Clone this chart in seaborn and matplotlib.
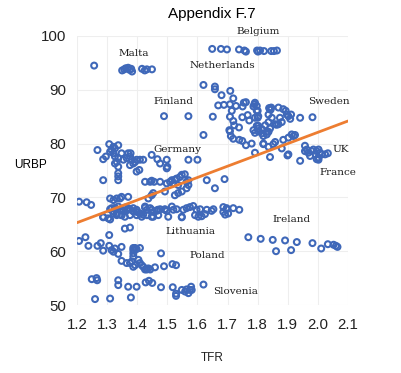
import matplotlib
matplotlib.use("Agg")
import matplotlib.pyplot as plt
import seaborn as sns
import pandas as pd

# ---- data (TFR, URBP) ----
belgium = [(1.649,97.6),(1.678,97.6),(1.698,97.5),(1.738,97.5),(1.756,97.3),(1.761,97.1),(1.798,97.3),
           (1.801,97.1),(1.808,97.3),(1.821,97.2),(1.845,97.2),(1.854,97.2),(1.864,97.3)]
malta = [(1.257,94.5),(1.35,93.6),(1.357,93.8),(1.362,94.0),(1.37,94.1),(1.375,93.7),(1.38,93.9),
         (1.383,93.4),(1.416,93.9),(1.425,93.6),(1.432,93.8),(1.449,93.8)]
netherlands = [(1.62,90.9),(1.658,90.6),(1.658,90.1),(1.68,89.0),(1.709,89.8),(1.719,88.4),(1.669,87.1),
               (1.688,87.2),(1.708,87.3),(1.728,87.0),(1.75,86.9),(1.761,87.7),(1.754,87.6),(1.714,86.1),
               (1.789,87.3),(1.786,86.9),(1.797,86.1),(1.489,85.1),(1.57,85.1),(1.651,85.0),(1.708,85.0),
               (1.719,84.2),(1.722,83.4),(1.749,84.9),(1.767,85.3),(1.772,84.3),(1.738,83.0),(1.797,83.3),
               (1.791,84.8),(1.80,84.8),(1.708,82.3),(1.711,81.4),(1.719,80.9),(1.62,81.6),(1.749,80.5),
               (1.761,79.7),(1.78,80.0),(1.706,82.5),(1.739,80.7),(1.819,80.0),(1.836,79.4),(1.786,82.5),
               (1.802,82.8),(1.814,81.9),(1.83,82.2),(1.841,82.8),(1.863,83.5)]
sweden = [(1.791,87.6),(1.797,87.0),(1.80,86.1),(1.802,85.1),(1.838,86.6),(1.841,86.4),(1.845,86.7),
          (1.843,86.3),(1.869,86.7),(1.885,86.4),(1.893,86.1),(1.897,85.4),(1.911,85.4),(1.941,84.8),
          (1.982,84.9),(1.836,85.4),(1.847,84.8),(1.836,84.0),(1.825,83.4),(1.814,82.7),(1.802,83.3),
          (1.858,83.6),(1.869,83.6),(1.88,84.0),(1.874,84.8),(1.902,85.1),(1.908,84.6),(1.83,81.7),
          (1.836,82.2),(1.819,81.4),(1.802,82.3),(1.791,82.0),(1.913,81.7),(1.919,81.4),(1.924,81.6),
          (1.902,81.1),(1.885,80.7),(1.858,80.3),(1.852,79.9),(1.819,79.9),(1.841,77.5),(1.902,78.0),
          (1.941,76.8),(1.791,78.3),(1.899,77.8),(1.88,79.1)]
uk = [(1.957,79.6),(1.963,78.9),(1.968,78.3),(1.98,78.6),(1.985,78.9),(1.996,78.6),(2.002,78.9),
      (2.007,78.3),(2.013,78.0),(2.024,78.0),(2.033,78.2),(2.002,77.4),(1.996,77.1),(1.974,77.7),
      (1.957,78.6),(2.002,77.0)]
germany = [(1.268,78.8),(1.307,79.9),(1.321,79.4),(1.337,79.7),(1.315,78.8),(1.326,79.1),(1.31,78.5),
           (1.321,78.2),(1.296,77.6),(1.287,77.1),(1.326,77.6),(1.337,77.3),(1.332,76.6),(1.326,76.3),
           (1.337,75.7),(1.37,78.2),(1.378,78.2),(1.376,77.6),(1.365,77.3),(1.382,77.0),(1.393,76.6),
           (1.398,77.0),(1.409,77.0),(1.42,77.0),(1.387,76.3),(1.376,76.0),(1.354,77.0),(1.348,78.2),
           (1.337,74.5),(1.337,73.9),(1.337,73.2),(1.287,73.2),(1.398,74.8),(1.407,75.1),(1.448,77.9),
           (1.467,77.1),(1.476,76.3),(1.498,77.0),(1.5,75.7),(1.498,75.4),(1.57,77.0),(1.60,77.0)]
middle = [(1.631,73.2),(1.69,73.4),(1.658,71.7),(1.426,72.9),(1.443,72.9),(1.448,73.1),(1.456,72.9),
          (1.476,72.9),(1.498,72.6),(1.509,72.9),(1.515,73.2),(1.531,73.5),(1.542,73.8),(1.558,74.3),
          (1.548,74.2),(1.525,73.3),(1.52,72.6),(1.536,72.3),(1.564,72.9),(1.57,73.2),(1.57,72.3),
          (1.564,71.7),(1.548,71.1),(1.536,70.8),(1.525,70.4),(1.492,71.1),(1.448,70.4),(1.453,70.8),
          (1.437,69.8),(1.232,69.1),(1.247,68.6),(1.207,69.2)]
lithuania = [(1.31,67.8),(1.321,67.4),(1.326,68.0),(1.332,67.0),(1.343,67.7),(1.348,66.7),(1.354,67.4),
             (1.365,67.7),(1.376,67.8),(1.387,67.4),(1.398,67.7),(1.409,67.0),(1.426,68.3),(1.432,67.7),
             (1.448,67.7),(1.453,66.4),(1.465,67.5),(1.476,67.8),(1.492,67.8),(1.498,67.5),(1.515,68.3),
             (1.52,67.7),(1.531,67.8),(1.548,66.3),(1.553,67.7),(1.564,68.0),(1.575,68.2),(1.586,68.4),
             (1.597,67.7),(1.609,67.8),(1.614,66.5),(1.625,66.9),(1.631,67.7),(1.647,67.5),(1.653,67.8),
             (1.686,68.2),(1.697,67.8),(1.702,67.0),(1.719,68.0),(1.739,67.7),(1.287,66.3),(1.31,65.9),
             (1.31,69.8),(1.321,69.5),(1.332,69.8),(1.343,69.8),(1.348,70.1),(1.37,70.1),
             (1.315,68.0),(1.326,68.0),(1.337,68.3),(1.348,67.7),(1.359,68.1),(1.37,68.0),(1.387,68.0),
             (1.398,67.3),(1.409,67.0),(1.42,66.8),(1.426,68.1),(1.443,68.0),(1.453,67.3),(1.468,67.7),
             (1.492,67.7),(1.321,67.0),(1.332,66.7),(1.348,66.7),(1.359,66.4),(1.376,66.7),(1.398,66.7),
             (1.415,66.4),(1.432,66.7),(1.448,66.4),(1.47,66.7),(1.287,66.4),(1.304,66.1),(1.503,66.4),
             (1.548,66.4),(1.592,66.7),(1.603,66.4),(1.686,67.3),(1.692,66.8),(1.697,68.0),
             (1.359,64.2),(1.376,64.4),(1.307,63.0)]
poland = [(1.207,61.9),(1.228,62.6),(1.238,61.0),(1.268,61.0),(1.279,61.5),(1.287,60.1),(1.307,61.0),
          (1.315,60.2),(1.321,59.9),(1.326,60.5),(1.337,59.5),(1.348,60.8),(1.348,58.2),(1.365,57.8),
          (1.376,57.8),(1.382,58.1),(1.387,57.1),(1.393,57.4),(1.387,59.0),(1.387,59.6),(1.387,60.2),
          (1.387,60.6),(1.393,60.6),(1.398,60.4),(1.409,60.6),(1.404,58.4),(1.409,57.8),(1.415,57.4),
          (1.42,57.1),(1.426,56.6),(1.432,56.6),(1.437,56.8),(1.443,56.6),(1.459,57.0),(1.479,59.6),
          (1.489,57.2),(1.517,57.6),(1.529,57.4)]
slovenia = [(1.249,54.8),(1.265,55.0),(1.267,54.6),(1.337,54.6),(1.337,53.7),(1.37,53.4),(1.398,53.4),
            (1.428,54.2),(1.439,54.5),(1.45,54.1),(1.479,53.3),(1.518,53.3),(1.529,51.7),(1.529,52.1),
            (1.548,52.8),(1.559,52.5),(1.57,52.2),(1.575,52.8),(1.579,53.4),(1.581,52.8),(1.564,52.9),
            (1.62,53.8),(1.26,51.1),(1.31,51.2),(1.379,51.4)]
ireland = [(1.769,62.6),(1.81,62.3),(1.85,62.1),(1.891,62.0),(1.93,61.7),(1.982,61.5),(2.011,60.5),
           (2.033,61.3),(2.052,61.2),(2.06,61.0),(2.065,60.8),(1.861,60.0),(1.911,60.2)]

trend_tfr = [1.2, 2.1]
trend_urbp = [65.3, 84.2]

country_names = ["Belgium", "Malta", "Netherlands", "Finland", "Sweden", "Germany", "UK",
                 "France", "Ireland", "Lithuania", "Poland", "Slovenia"]
label_tfr = [1.801, 1.389, 1.681, 1.522, 2.038, 1.533, 2.076, 2.066, 1.913, 1.578, 1.634, 1.726]
label_urbp = [100.9, 96.7, 94.5, 87.9, 87.9, 78.9, 78.9, 74.6, 65.8, 63.6, 59.2, 52.5]

x_ticks = [1.2, 1.3, 1.4, 1.5, 1.6, 1.7, 1.8, 1.9, 2.0, 2.1]
y_ticks = [50, 60, 70, 80, 90, 100]

points = (belgium + malta + netherlands + sweden + uk + germany + middle
          + lithuania + poland + slovenia + ireland)
df = pd.DataFrame(points, columns=["TFR", "URBP"])
trend = pd.DataFrame({"TFR": trend_tfr, "URBP": trend_urbp})

# ---- plot ----
sns.set_style("white")
plt.rcParams["font.family"] = ["Liberation Sans", "DejaVu Sans"]

fig = plt.figure(figsize=(4.02, 3.73), dpi=100)
ax = fig.add_axes([0.1915, 0.1823, 0.6742, 0.7212])

blue = "#3F68B9"
orange = "#ED7D31"

sns.scatterplot(data=df, x="TFR", y="URBP", ax=ax, s=18, marker="o",
                color=blue, linewidth=1.5, zorder=3)
coll = ax.collections[0]
coll.set_facecolor("none")
coll.set_edgecolor(blue)

sns.lineplot(data=trend, x="TFR", y="URBP", ax=ax, color=orange, linewidth=2.0, zorder=4)

for name, lx, ly in zip(country_names, label_tfr, label_urbp):
    ax.text(lx, ly, name, ha="center", va="center", fontsize=7.5,
            family=["DejaVu Serif"], color="#1e1e1e", clip_on=False, zorder=5)

ax.set_xlim(1.2, 2.1)
ax.set_ylim(50, 100)
ax.set_xticks(x_ticks)
ax.set_xticklabels([f"{v:.1f}" for v in x_ticks])
ax.set_yticks(y_ticks)
ax.set_yticklabels([str(v) for v in y_ticks])
ax.tick_params(axis="both", length=0, labelsize=10.8, colors="#222222")
ax.tick_params(axis="x", pad=9)
ax.tick_params(axis="y", pad=8)
ax.grid(True, color="#EEEEEE", linewidth=0.8, zorder=0)
ax.set_axisbelow(True)
for s in ax.spines.values():
    s.set_visible(False)

ax.set_xlabel("")
ax.set_ylabel("")
fig.text(0.527, 0.962, "Appendix F.7", ha="center", va="center", fontsize=11, color="black")
fig.text(0.077, 0.558, "URBP", ha="center", va="center", fontsize=8.5, color="black")
fig.text(0.527, 0.040, "TFR", ha="center", va="center", fontsize=8.5, color="#222222")

fig.savefig("out.png", dpi=100)
